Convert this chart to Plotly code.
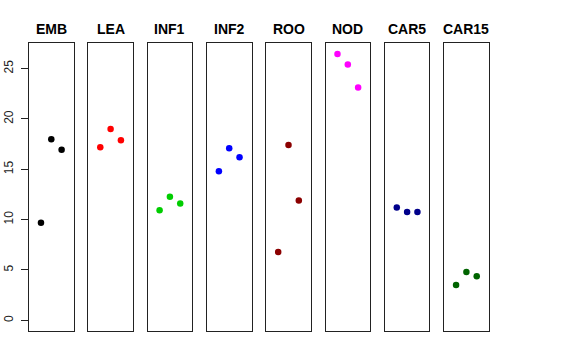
import plotly.graph_objects as go

tissues = ["EMB", "LEA", "INF1", "INF2", "ROO", "NOD", "CAR5", "CAR15"]
EMB = [9.68, 17.99, 16.93]
LEA = [17.19, 19.01, 17.89]
INF1 = [10.94, 12.26, 11.60]
INF2 = [14.81, 17.09, 16.20]
ROO = [6.78, 17.42, 11.90]
NOD = [26.45, 25.40, 23.12]
CAR5 = [11.21, 10.77, 10.77]
CAR15 = [3.50, 4.79, 4.39]
values = [EMB, LEA, INF1, INF2, ROO, NOD, CAR5, CAR15]
colors = ["#000000", "#FF0000", "#00CD00", "#0000FF", "#8B0000", "#FF00FF", "#00008B", "#006400"]
replicates = [1, 2, 3]
y_ticks = [0, 5, 10, 15, 20, 25]

W, H = 576, 360
fig = go.Figure()

ymax = max(max(v) for v in values)
ext = 0.04 * ymax
yrange = [0 - ext, ymax + ext]
xrange = [-0.16, 4.16]

left0, step, pw = 29.0, 59.3, 44.6
top, bottom = 43.3, 331.0

layout = dict(
    width=W, height=H,
    margin=dict(l=0, r=0, t=0, b=0, pad=0, autoexpand=False),
    paper_bgcolor="white", plot_bgcolor="white",
    showlegend=False,
    font=dict(family="Liberation Sans, Arial, sans-serif", color="black"),
    annotations=[],
)

for i, (name, vals, col) in enumerate(zip(tissues, values, colors)):
    k = "" if i == 0 else str(i + 1)
    x0 = left0 + step * i
    fig.add_trace(go.Scatter(
        x=replicates, y=vals, mode="markers",
        marker=dict(color=col, size=6.5, line=dict(width=0)),
        xaxis="x" + k, yaxis="y" + k, hoverinfo="skip",
    ))
    layout["xaxis" + k] = dict(
        domain=[x0 / W, (x0 + pw) / W], range=xrange,
        showgrid=False, zeroline=False, showticklabels=False, ticks="",
        showline=True, mirror=True, linecolor="#222222", linewidth=1,
        anchor="y" + k, automargin=False,
    )
    ya = dict(
        domain=[(H - bottom) / H, (H - top) / H], range=yrange,
        showgrid=False, zeroline=False,
        showline=True, mirror=True, linecolor="#222222", linewidth=1,
        anchor="x" + k, automargin=False,
    )
    if i == 0:
        ya.update(tickvals=y_ticks, ticktext=[str(t) for t in y_ticks],
                  ticks="outside", ticklen=7, tickcolor="#222222",
                  tickangle=-90, tickfont=dict(size=12, color="#222222"),
                  ticklabelstandoff=3)
    else:
        ya.update(showticklabels=False, ticks="")
    layout["yaxis" + k] = ya
    layout["annotations"].append(dict(
        text="<b>" + name + "</b>", xref="paper", yref="paper",
        x=(x0 + pw / 2) / W, y=(H - 29.0) / H, xanchor="center", yanchor="middle",
        showarrow=False, font=dict(size=14, color="black"),
    ))

fig.update_layout(**layout)
fig.write_html("out.html", config={"displayModeBar": False},
               post_script="document.body.style.margin='0';")
